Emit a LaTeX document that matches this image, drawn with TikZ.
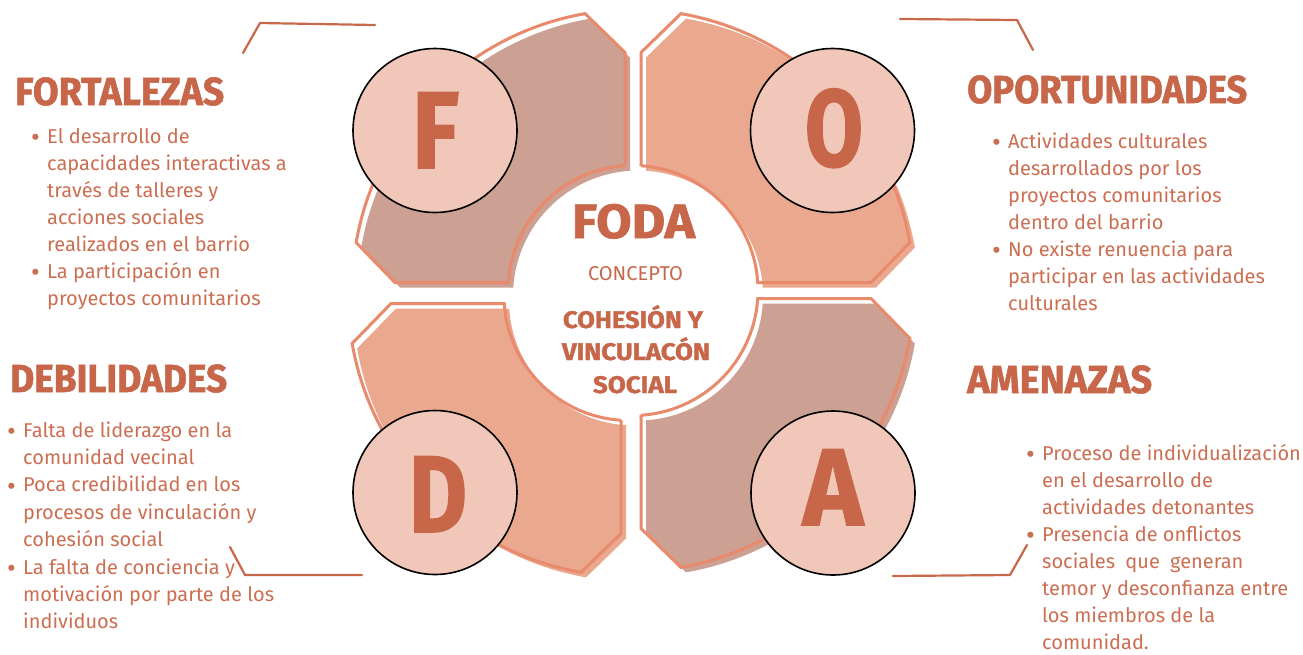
\documentclass[tikz,border=0pt]{standalone}
\usepackage{fontspec}
\usepackage{graphicx}
\setmainfont{Fira Sans}
\newfontfamily\heavy{Fira Sans}[FakeBold=1.4]
\definecolor{hcol}{HTML}{C8664A}
\definecolor{bcol}{HTML}{CC6E52}
\definecolor{qa}{HTML}{CCA092}
\definecolor{qb}{HTML}{EAA98F}
\definecolor{olc}{HTML}{E88A6B}
\definecolor{cfill}{HTML}{F0C7B8}
\definecolor{lcol}{HTML}{C9674B}
\newcommand\fitw[2]{\resizebox{#1}{\height}{#2}}
\newcommand\bul{\llap{\makebox[16pt][l]{\raisebox{-0.35ex}{\scalebox{1.35}{•}}}}}
\tikzset{
  head/.style={inner sep=0pt, anchor=base west, text=hcol, font=\heavy\bfseries\fontsize{39}{39}\selectfont},
  body/.style={inner sep=0pt, anchor=base west, text=bcol, align=left, font=\fontsize{20}{27}\selectfont},
  bigl/.style={inner sep=0pt, anchor=base, text=hcol, font=\heavy\bfseries\fontsize{109}{109}\selectfont},
  ctr/.style={inner sep=0pt, anchor=base, text=hcol},
  lcirc/.style={circle, draw=black, line width=1.6pt, fill=cfill, minimum size=164pt, inner sep=0pt},
  deco/.style={draw=lcol, line width=2.2pt, line cap=round, line join=round},
  qout/.style={draw=olc, line width=3pt, line join=miter},
}
\begin{document}
\begin{tikzpicture}[x=1pt,y=-1pt]
\fill[white] (0,0) rectangle (1303,654);
\useasboundingbox (0,0) rectangle (1303,654);

% quadrants
\foreach \sx/\sy/\dx/\dy/\col in {-1/-1/0/0/qa, 1/-1/0/0/qb, -1/1/-4/5/qb, 1/1/0/0/qa}{
  \begin{scope}[shift={(633+\dx,290.5+\dy)}, xscale=\sx, yscale=\sy]
    \fill[\col, shift={(5*\sx,5*\sy)}] (8,124.7) -- (8,238)
      -- plot[domain=80.17:9.83, samples=40, variable=\t] ({281*cos(\t)},{281*sin(\t)})
      -- (238,8)
      -- plot[domain=3.67:86.33, samples=30, variable=\t] ({125*cos(\t)},{125*sin(\t)}) -- cycle;
    \draw[qout] (8,124.7) -- (8,238)
      -- plot[domain=80.17:9.83, samples=40, variable=\t] ({281*cos(\t)},{281*sin(\t)})
      -- (238,8)
      -- plot[domain=3.67:86.33, samples=30, variable=\t] ({125*cos(\t)},{125*sin(\t)}) -- cycle;
  \end{scope}
}

% letter circles
\node[lcirc] (cf) at (435,130.5) {};
\node[lcirc] (co) at (832.5,130.5) {};
\node[lcirc] (cd) at (435,492.5) {};
\node[lcirc] (ca) at (833,493) {};
\node[bigl] (lf) at (435.5,168) {\fitw{47pt}{F}};
\node[bigl] (lo) at (834,166) {\fitw{58pt}{O}};
\node[bigl] (ld) at (438,532) {\fitw{58pt}{D}};
\node[bigl] (la) at (833,525) {\fitw{60pt}{A}};

% centre text
\node[ctr, font=\heavy\bfseries\fontsize{48}{48}\selectfont] (foda) at (633.5,238) {\fitw{123pt}{FODA}};
\node[ctr, font=\fontsize{20}{20}\selectfont] (concepto) at (635.5,280) {\fitw{95pt}{CONCEPTO}};
\node[ctr, font=\heavy\bfseries\fontsize{24}{24}\selectfont] (c1) at (633,328) {\fitw{140pt}{COHESIÓN Y}};
\node[ctr, font=\heavy\bfseries\fontsize{24}{24}\selectfont] (c2) at (636,360) {\fitw{148pt}{VINCULACÓN}};
\node[ctr, font=\heavy\bfseries\fontsize{24}{24}\selectfont] (c3) at (635,393) {\fitw{84pt}{SOCIAL}};

% headings
\node[head] (fh) at (15,105) {\fitw{209pt}{FORTALEZAS}};
\node[head] (oh) at (967,103) {\fitw{280pt}{OPORTUNIDADES}};
\node[head] (dh) at (10,392) {\fitw{217pt}{DEBILIDADES}};
\node[head] (ah) at (967,393) {\fitw{185pt}{AMENAZAS}};

% bodies (anchor = baseline of last line)
\node[body] (fb) at (47,305) {\bul El desarrollo de\\capacidades interactivas a\\través de talleres y\\acciones sociales\\realizados en el barrio\\\bul La participación en\\proyectos comunitarios};
\node[body] (ob) at (1008,310) {\bul Actividades culturales\\desarrollados por los\\proyectos comunitarios\\dentro del barrio\\\bul No existe renuencia para\\participar en las actividades\\culturales};
\node[body, font=\fontsize{20}{27.4}\selectfont] (db) at (23,628.8) {\bul Falta de liderazgo en la\\comunidad vecinal\\\bul Poca credibilidad en los\\procesos de vinculación y\\cohesión social\\\bul La falta de conciencia y\\motivación por parte de los\\individuos};
\node[body] (ab) at (1042,649) {\bul Proceso de individualización\\en el desarrollo de\\actividades detonantes\\\bul Presencia de onflictos\\sociales\hspace{0.25em} que\hspace{0.25em} generan\\temor y desconfianza entre\\los miembros de la\\comunidad.};

% decorative lines
\coordinate (tl1) at (243,53); \coordinate (tl2) at (260,23); \coordinate (tl3) at (375,25);
\draw[deco] (tl1) -- (tl2) -- (tl3);
\coordinate (tr1) at (900,19); \coordinate (tr2) at (1017,20); \coordinate (tr3) at (1033,50);
\draw[deco] (tr1) -- (tr2) -- (tr3);
\coordinate (bl1) at (230,547); \coordinate (bl2) at (245,575); \coordinate (bl3) at (362,575);
\draw[deco] (bl1) -- (bl2) -- (bl3);
\coordinate (br1) at (893,576); \coordinate (br2) at (1010,575); \coordinate (br3) at (1027,545);
\draw[deco] (br1) -- (br2) -- (br3);
\end{tikzpicture}
\end{document}
